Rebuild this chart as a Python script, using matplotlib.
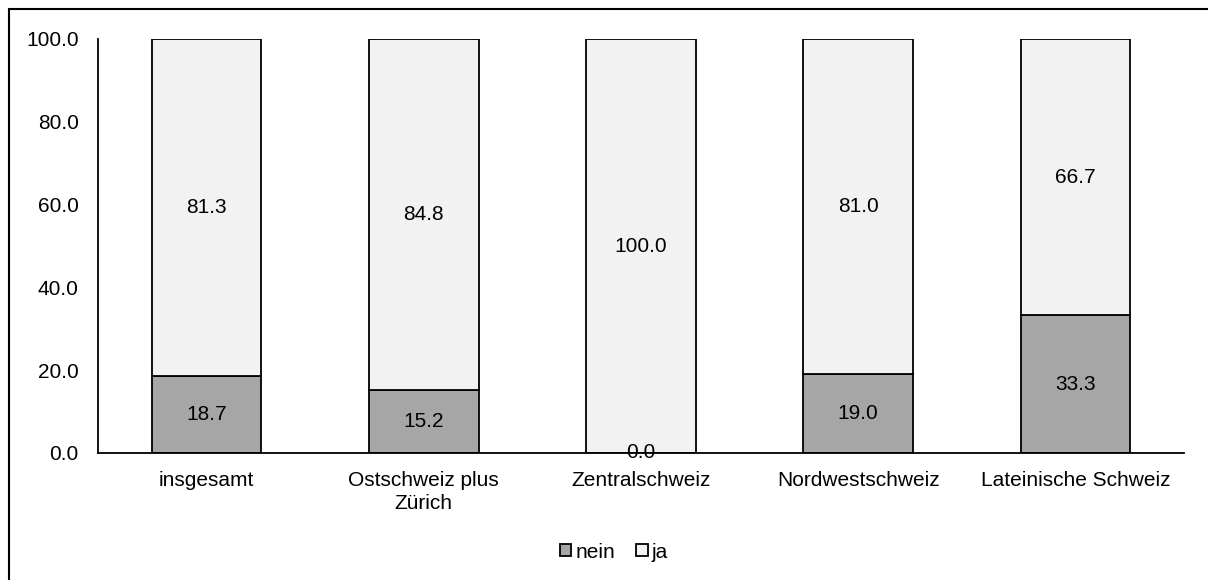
import matplotlib.pyplot as plt
from matplotlib.patches import Rectangle

plt.rcParams['font.family'] = ['Liberation Sans', 'DejaVu Sans']

categories = ['insgesamt', 'Ostschweiz plus\nZürich', 'Zentralschweiz',
              'Nordwestschweiz', 'Lateinische Schweiz']
nein = [18.7, 15.2, 0.0, 19.0, 33.3]
ja = [81.3, 84.8, 100.0, 81.0, 66.7]


def main():
    fig = plt.figure(figsize=(12.08, 5.8), dpi=100)
    ax = fig.add_axes([98 / 1208, 1 - 453 / 580, 1086 / 1208, 414 / 580])

    x = list(range(len(categories)))
    b1 = ax.bar(x, nein, width=0.505, color='#A6A6A6', edgecolor='black',
                linewidth=1.3, label='nein')
    b2 = ax.bar(x, ja, width=0.505, bottom=nein, color='#F2F2F2',
                edgecolor='black', linewidth=1.3, label='ja')

    for i in x:
        ax.text(i, nein[i] / 2, f'{nein[i]:.1f}', ha='center', va='center',
                fontsize=15)
        ax.text(i, nein[i] + ja[i] / 2, f'{ja[i]:.1f}', ha='center',
                va='center', fontsize=15)

    ax.set_xlim(-0.5, len(categories) - 0.5)
    ax.set_ylim(0, 100)
    ax.set_yticks([0, 20, 40, 60, 80, 100])
    ax.set_yticklabels([f'{v:.1f}' for v in [0, 20, 40, 60, 80, 100]])
    ax.set_xticks(x)
    ax.set_xticklabels(categories, linespacing=1.25)
    ax.tick_params(axis='both', length=0, labelsize=15)
    ax.tick_params(axis='y', pad=14)
    ax.tick_params(axis='x', pad=13)
    for s in ['top', 'right']:
        ax.spines[s].set_visible(False)
    ax.spines['left'].set_linewidth(1.3)
    ax.spines['bottom'].set_linewidth(1.3)

    fig.legend(handles=[b1, b2], labels=['nein', 'ja'], loc='center',
               bbox_to_anchor=(614 / 1208, 1 - 552 / 580), ncol=2,
               frameon=False, fontsize=15, handlelength=0.55,
               handleheight=0.55, handletextpad=0.2, columnspacing=1.0)

    # outer frame, only top and left edges fall inside the image
    fig.patches.append(Rectangle((9 / 1208, -20 / 580), 1220 / 1208,
                                 (580 - 9 + 20) / 580,
                                 transform=fig.transFigure, fill=False,
                                 edgecolor='black', linewidth=1.5))
    fig.savefig('out.png', dpi=100)


if __name__ == '__main__':
    main()
